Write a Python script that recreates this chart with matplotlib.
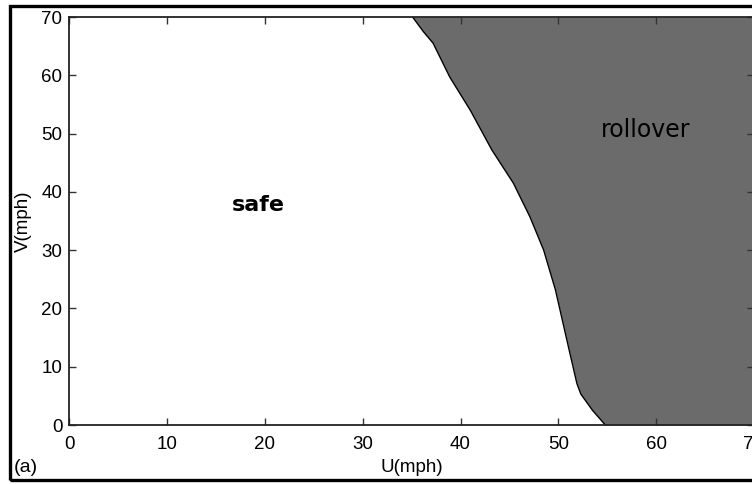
import matplotlib
matplotlib.use("Agg")
import matplotlib.pyplot as plt
from matplotlib.patches import Rectangle

# Rollover threshold: lateral speed V (mph) vs forward speed U (mph)
boundary_v = [70.0, 67.5, 65.5, 59.7, 54.0, 47.2, 41.5, 35.7, 30.0, 23.2, 12.9, 7.1, 5.3, 2.5, 0.0]
boundary_u = [35.1, 36.2, 37.2, 38.9, 41.0, 43.2, 45.4, 47.1, 48.5, 49.7, 51.1, 51.9, 52.3, 53.5, 54.8]
ticks = [0, 10, 20, 30, 40, 50, 60, 70]
u_max, v_max = 70, 70

fig = plt.figure(figsize=(7.52, 4.84), dpi=100)
fig.patch.set_facecolor("white")

# outer frame around the panel
fig.patches.append(Rectangle((10 / 752, 4 / 484), 1.1, 474 / 484,
                             transform=fig.transFigure, fill=False,
                             edgecolor="black", linewidth=2.4))

ax = fig.add_axes([69.2 / 752, 59 / 484, 684.8 / 752, 408 / 484])
ax.fill_betweenx(boundary_v, boundary_u, u_max, color="#6b6b6b", linewidth=0)
ax.plot(boundary_u, boundary_v, color="black", linewidth=1.0)

ax.set_xlim(0, u_max)
ax.set_ylim(0, v_max)
ax.set_xticks(ticks)
ax.set_yticks(ticks)

tick_font = {"family": "Liberation Sans", "size": 13.5}
ax.set_xticklabels([str(t) for t in ticks], fontdict=tick_font)
ax.set_yticklabels([str(t) for t in ticks], fontdict=tick_font)
ax.tick_params(direction="in", length=5, width=1, color="#333333",
               top=True, right=True)
ax.tick_params(axis="x", pad=8)
ax.tick_params(axis="y", pad=5)
for s in ax.spines.values():
    s.set_linewidth(1.3)
    s.set_color("#222222")

ax.set_xlabel("U(mph)", family="Liberation Sans", size=13.5, labelpad=4)
ax.set_ylabel("V(mph)", family="Liberation Sans", size=13.5, labelpad=7)

ax.text(19.3, 37.8, "safe", family="DejaVu Sans", weight="bold", size=16,
        ha="center", va="center")
ax.text(58.9, 50.6, "rollover", family="DejaVu Sans", size=17,
        ha="center", va="center")

fig.text(26 / 752, 1 - 468 / 484, "(a)", family="Liberation Sans", size=14,
         ha="center", va="center")

fig.savefig("out.png", dpi=100)
